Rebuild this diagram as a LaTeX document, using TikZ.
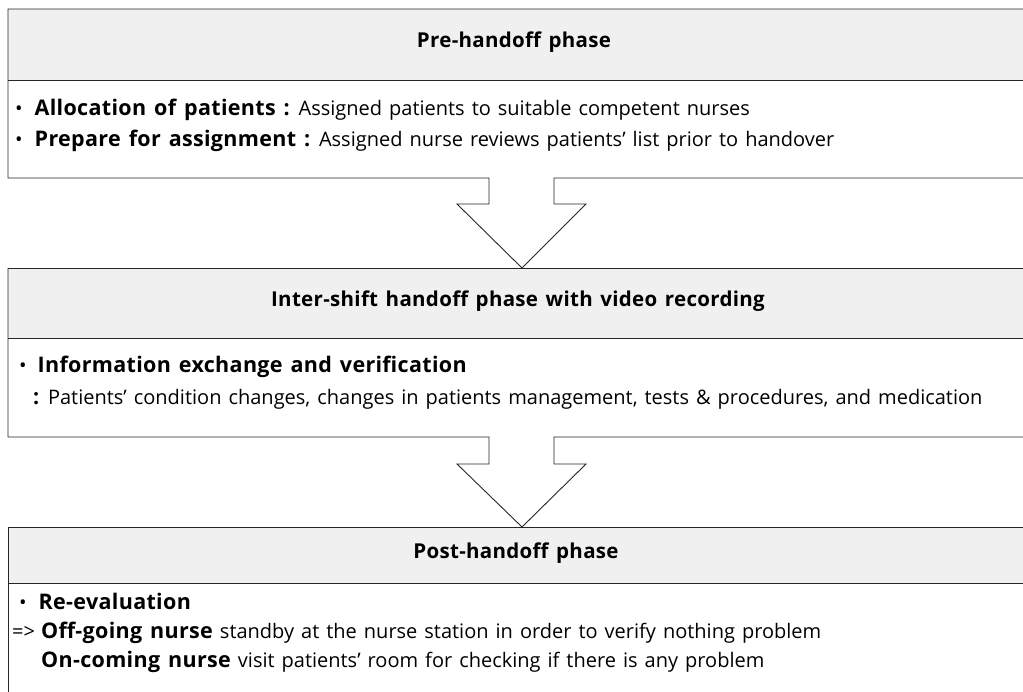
\documentclass[tikz,border=0pt]{standalone}
\usepackage{fontspec}
\setmainfont{Open Sans}[WordSpace=1.35, BoldFeatures={LetterSpace=1.5}]
\newcommand\lbl[1]{{\fontsize{21.5}{24}\selectfont\bfseries #1}}
\tikzset{
  hdr/.style={inner sep=0pt, anchor=mid, font=\bfseries\fontsize{20.5}{24}\selectfont},
  txt/.style={inner sep=0pt, anchor=mid west, font=\fontsize{20}{24}\selectfont},
  frame/.style={draw=black!85, line width=0.9pt},
  hdfill/.style={fill=black!6}
}
\begin{document}
\begin{tikzpicture}[x=1pt,y=-1pt]
    \useasboundingbox (0,0) rectangle (1023,692);

    % header bands
    \fill[hdfill] (8,9) rectangle (1023,80);
    \fill[hdfill] (8,268) rectangle (1023,338);
    \fill[hdfill] (8,527) rectangle (1023,583);

    % first box with its arrow
    \draw[frame] (1023,9) -- (8,9) -- (8,178) -- (489,178) -- (489,204) -- (457,204)
        -- (522,268) -- (586,204) -- (554,204) -- (554,178) -- (1023,178);
    \draw[frame] (8,80) -- (1023,80);

    % second box with its arrow
    \draw[frame] (8,268) -- (1023,268);
    \draw[frame] (8,268) -- (8,437) -- (489,437) -- (489,464) -- (457,464)
        -- (522,527) -- (586,464) -- (554,464) -- (554,437) -- (1023,437);
    \draw[frame] (8,338) -- (1023,338);

    % third box
    \draw[frame] (1023,527) -- (8,527) -- (8,692);
    \draw[frame] (8,583) -- (1023,583);

    \node [hdr] (prehd) at (514,45) {Pre-handoff phase};
    \node [txt] (alloc) at (15,113) {•\hspace{12pt}\lbl{Allocation of patients :} Assigned  patients to suitable competent nurses};
    \node [txt] (prep) at (15,144) {•\hspace{12pt}\lbl{Prepare for assignment :} Assigned nurse reviews patients’ list prior to handover};

    \node [hdr] (interhd) at (518,304) {Inter-shift handoff phase with video recording};
    \node [txt] (info) at (19,370) {•\hspace{11pt}\lbl{Information exchange and verification}};
    \node [txt] (cond) at (33,402) {\lbl{:} Patients’ condition changes, changes in patients management, tests \& procedures, and medication};

    \node [hdr] (posthd) at (516,556) {Post-handoff phase};
    \node [txt] (reeval) at (19,607) {•\hspace{12pt}\lbl{Re-evaluation}};
    \node [txt] (offgo) at (12,636) {=>\hspace{6pt}\lbl{Off-going nurse} standby at the nurse station in order to verify nothing problem};
    \node [txt] (oncome) at (41,665) {\lbl{On-coming nurse} visit patients’ room for checking if there is any problem};
\end{tikzpicture}
\end{document}
